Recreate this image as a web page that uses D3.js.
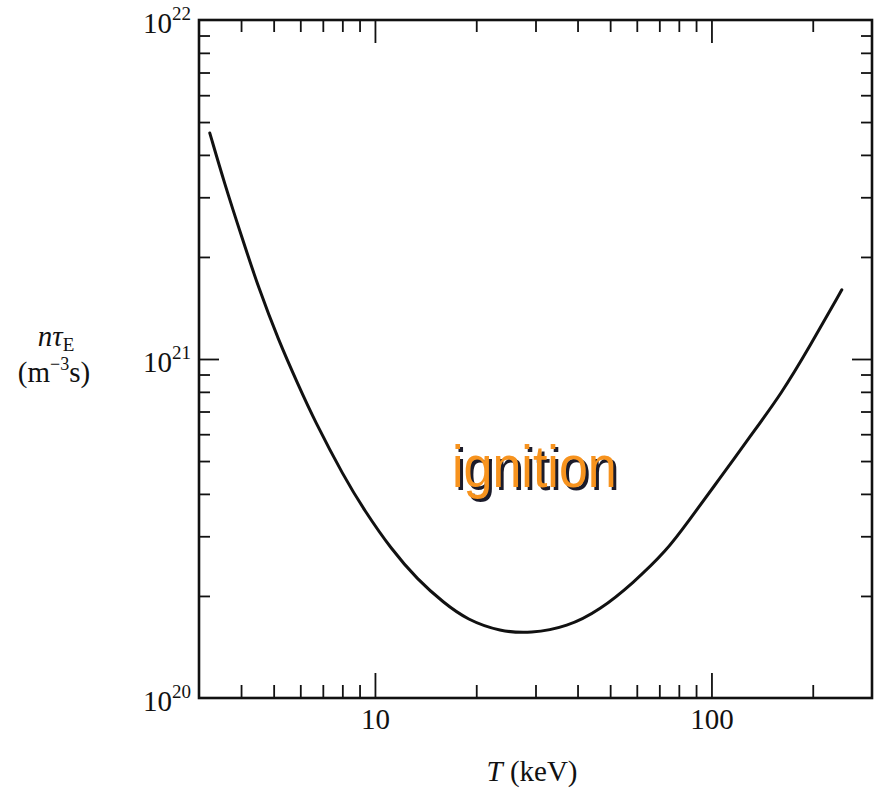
<!DOCTYPE html>
<html>
<head>
<meta charset="utf-8">
<script src="https://cdn.jsdelivr.net/npm/d3@7"></script>
<style>
  body { margin: 0; background: #fff; }
  svg { display: block; }
  .axis path, .axis line { stroke: #111; }
  .serif { font-family: "Liberation Serif", "DejaVu Serif", serif; fill: #111; }
</style>
</head>
<body>
<svg width="874" height="792"></svg>
<script>
// ignition curve, n*tau_E vs T
var temperature = [3.23, 3.57, 4.02, 4.51, 5.16, 5.92, 6.60, 8.09, 9.28, 11.2, 13.4, 16.0, 18.8, 23.6, 29.0, 37.3, 46.7, 58.4, 73.6, 85.0, 106, 130, 162, 195, 244];
var ntau = [4.64e21, 3.30e21, 2.29e21, 1.62e21, 1.14e21, 8.37e20, 6.61e20, 4.49e20, 3.59e20, 2.74e20, 2.23e20, 1.91e20, 1.70e20, 1.57e20, 1.55e20, 1.62e20, 1.82e20, 2.18e20, 2.72e20, 3.30e20, 4.45e20, 5.89e20, 7.94e20, 1.08e21, 1.60e21];

var xTicks = [4, 5, 6, 7, 8, 9, 10, 20, 30, 40, 50, 60, 70, 80, 90, 100, 200];
var xMajor = [10, 100];
var yTicks = [2e20, 3e20, 4e20, 5e20, 6e20, 7e20, 8e20, 9e20, 1e21, 2e21, 3e21, 4e21, 5e21, 6e21, 7e21, 8e21, 9e21];
var yMajor = [1e20, 1e21, 1e22];
var yExp = [20, 21, 22];

var svg = d3.select("svg"),
    plotL = 199, plotR = 872, plotT = 20, plotB = 698;

var x = d3.scaleLog().domain([3, 300]).range([plotL, plotR]);
var y = d3.scaleLog().domain([1e20, 1e22]).range([plotB, plotT]);

function isMajor(v, list) {
    return list.some(function(m) { return Math.abs(m - v) / m < 1e-6; });
}

// bottom + top axes
var xb = svg.append("g").attr("class", "axis serif")
    .attr("transform", "translate(0," + plotB + ")")
    .call(d3.axisBottom(x).tickValues(xTicks).tickSize(-13).tickPadding(10)
        .tickFormat(function(d) { return isMajor(d, xMajor) ? String(d) : ""; }));
xb.selectAll(".tick line").filter(function(d) { return isMajor(d, xMajor); }).attr("y2", -25);

var xt = svg.append("g").attr("class", "axis")
    .attr("transform", "translate(0," + plotT + ")")
    .call(d3.axisTop(x).tickValues(xTicks).tickSize(-12).tickFormat(""));
xt.selectAll(".tick line").filter(function(d) { return isMajor(d, xMajor); }).attr("y2", 23);

// left + right axes
var yl = svg.append("g").attr("class", "axis")
    .attr("transform", "translate(" + plotL + ",0)")
    .call(d3.axisLeft(y).tickValues(yTicks).tickSize(-11).tickFormat(""));
yl.selectAll(".tick line").filter(function(d) { return isMajor(d, yMajor); }).attr("x2", 20);

var yr = svg.append("g").attr("class", "axis")
    .attr("transform", "translate(" + plotR + ",0)")
    .call(d3.axisRight(y).tickValues(yTicks).tickSize(-11).tickFormat(""));
yr.selectAll(".tick line").filter(function(d) { return isMajor(d, yMajor); }).attr("x2", -20);

svg.selectAll(".axis path").remove();
svg.selectAll(".axis line").attr("stroke-width", 1.8);
svg.selectAll(".axis text").attr("font-size", 29).attr("fill", "#111")
    .attr("font-family", "Liberation Serif, serif");

// frame
svg.append("rect")
    .attr("x", plotL).attr("y", plotT)
    .attr("width", plotR - plotL).attr("height", plotB - plotT)
    .attr("fill", "none").attr("stroke", "#111").attr("stroke-width", 2.6);

// powers of ten on the y axis
var ylab = svg.selectAll(".ylab")
    .data(yMajor)
    .enter()
    .append("text")
      .attr("class", "ylab serif")
      .attr("x", 191)
      .attr("y", function(d) { return y(d) + 13; })
      .attr("font-size", 29)
      .style("text-anchor", "end");
ylab.append("tspan").text("10");
ylab.append("tspan")
    .attr("dy", -13)
    .attr("font-size", 19)
    .text(function(d, i) { return yExp[i]; });

// curve
var pts = temperature.map(function(t, i) { return [t, ntau[i]]; });
svg.append("path")
    .datum(pts)
    .attr("fill", "none")
    .attr("stroke", "#111")
    .attr("stroke-width", 3)
    .attr("stroke-linecap", "round")
    .attr("d", d3.line()
        .x(function(d) { return x(d[0]); })
        .y(function(d) { return y(d[1]); })
        .curve(d3.curveBasis));

// axis titles
var yt1 = svg.append("text").attr("class", "serif")
    .attr("x", 56).attr("y", 346).attr("font-size", 29)
    .style("text-anchor", "middle");
yt1.append("tspan").attr("font-style", "italic").text("nτ");
yt1.append("tspan").attr("font-size", 19).attr("dy", 5).text("E");

var yt2 = svg.append("text").attr("class", "serif")
    .attr("x", 54).attr("y", 382).attr("font-size", 29)
    .style("text-anchor", "middle");
yt2.append("tspan").text("(m");
yt2.append("tspan").attr("font-size", 18).attr("dy", -12).text("−3");
yt2.append("tspan").attr("dy", 12).text("s)");

var xtitle = svg.append("text").attr("class", "serif")
    .attr("x", 532).attr("y", 781).attr("font-size", 29)
    .style("text-anchor", "middle");
xtitle.append("tspan").attr("font-style", "italic").text("T");
xtitle.append("tspan").text(" (keV)");

// ignition label with its shadow
svg.append("text")
    .attr("transform", "translate(455,490) scale(1,1.15)")
    .attr("font-family", "Liberation Sans, Arial, sans-serif")
    .attr("font-size", 52)
    .attr("fill", "#1b1b2a")
    .text("ignition");
svg.append("text")
    .attr("transform", "translate(452,487) scale(1,1.15)")
    .attr("font-family", "Liberation Sans, Arial, sans-serif")
    .attr("font-size", 52)
    .attr("fill", "#f7931e")
    .text("ignition");
</script>
</body>
</html>
